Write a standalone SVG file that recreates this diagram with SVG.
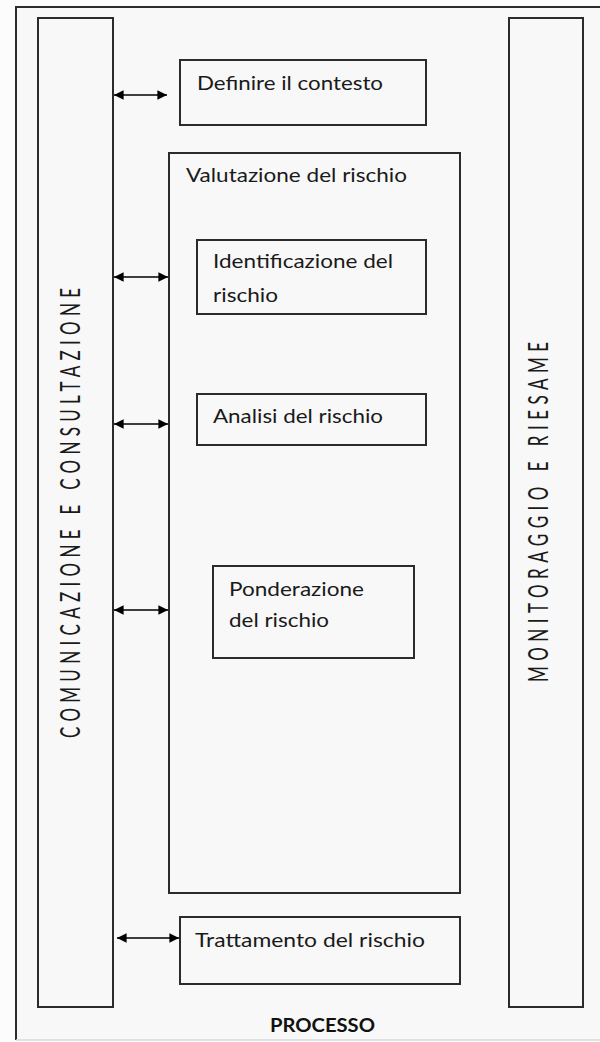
<svg xmlns="http://www.w3.org/2000/svg" width="600" height="1042" viewBox="0 0 600 1042">
<style>
.box{fill:none;stroke:#2b2b2b;stroke-width:2}
.lbl{font-family:Lato,"Liberation Sans",sans-serif;font-size:20px;fill:#1a1a1a}
.vlbl{font-family:Lato,"Liberation Sans",sans-serif;font-size:17px;fill:#1a1a1a}
.bold{font-family:Lato,"Liberation Sans",sans-serif;font-size:18px;font-weight:bold;fill:#111}
.conn{stroke:#000;stroke-width:1.6;fill:none;marker-start:url(#ah);marker-end:url(#ah)}
.frame{stroke:#2b2b2b;stroke-width:2;fill:none}
</style>
<defs>
<marker id="ah" viewBox="0 0 10 10" refX="10" refY="5" markerWidth="6" markerHeight="6" orient="auto-start-reverse" markerUnits="strokeWidth">
<path d="M0,0 L10,5 L0,10 z" fill="#000"/>
</marker>
</defs>
<rect x="0" y="0" width="600" height="1042" fill="#fcfcfc"/>
<rect x="16" y="7" width="584" height="1033" fill="#f8f8f8"/>
<g id="frame">
<path class="frame" d="M16,1040 L16,7 L600,7"/>
<path d="M16,1040 L600,1040" stroke="#d8d8d8" stroke-width="1.5"/>
</g>
<g id="comunicazione">
<rect class="box" x="38" y="18" width="75" height="989"/>
<text class="vlbl" transform="translate(80,738) scale(1.6,1) rotate(-90)" textLength="450" lengthAdjust="spacing">COMUNICAZIONE E CONSULTAZIONE</text>
</g>
<g id="monitoraggio">
<rect class="box" x="509" y="18" width="74" height="989"/>
<text class="vlbl" transform="translate(548,682) scale(1.6,1) rotate(-90)" textLength="340" lengthAdjust="spacing">MONITORAGGIO E RIESAME</text>
</g>
<g id="definire">
<rect class="box" x="180" y="60" width="246" height="65"/>
<text class="lbl" x="197" y="90" textLength="186" lengthAdjust="spacingAndGlyphs">Definire il contesto</text>
</g>
<g id="valutazione">
<rect class="box" x="169" y="153" width="291" height="740"/>
<text class="lbl" x="186" y="182" textLength="221" lengthAdjust="spacingAndGlyphs">Valutazione del rischio</text>
</g>
<g id="identificazione">
<rect class="box" x="197" y="240" width="229" height="74"/>
<text class="lbl" x="213" y="268" textLength="180" lengthAdjust="spacingAndGlyphs">Identificazione del</text>
<text class="lbl" x="213" y="302" textLength="65" lengthAdjust="spacingAndGlyphs">rischio</text>
</g>
<g id="analisi">
<rect class="box" x="197" y="394" width="229" height="51"/>
<text class="lbl" x="213" y="423" textLength="170" lengthAdjust="spacingAndGlyphs">Analisi del rischio</text>
</g>
<g id="ponderazione">
<rect class="box" x="213" y="566" width="201" height="92"/>
<text class="lbl" x="229" y="596" textLength="135" lengthAdjust="spacingAndGlyphs">Ponderazione</text>
<text class="lbl" x="229" y="627" textLength="100" lengthAdjust="spacingAndGlyphs">del rischio</text>
</g>
<g id="trattamento">
<rect class="box" x="180" y="917" width="280" height="67"/>
<text class="lbl" x="195" y="947" textLength="230" lengthAdjust="spacingAndGlyphs">Trattamento del rischio</text>
</g>
<g id="processo">
<text class="bold" x="270" y="1032" textLength="105" lengthAdjust="spacingAndGlyphs">PROCESSO</text>
</g>
<g id="connectors">
<line class="conn" x1="114" y1="95" x2="167" y2="95"/>
<line class="conn" x1="114" y1="277" x2="168" y2="277"/>
<line class="conn" x1="114" y1="424" x2="168" y2="424"/>
<line class="conn" x1="114" y1="610" x2="168" y2="610"/>
<line class="conn" x1="117" y1="938" x2="179" y2="938"/>
</g>
</svg>
